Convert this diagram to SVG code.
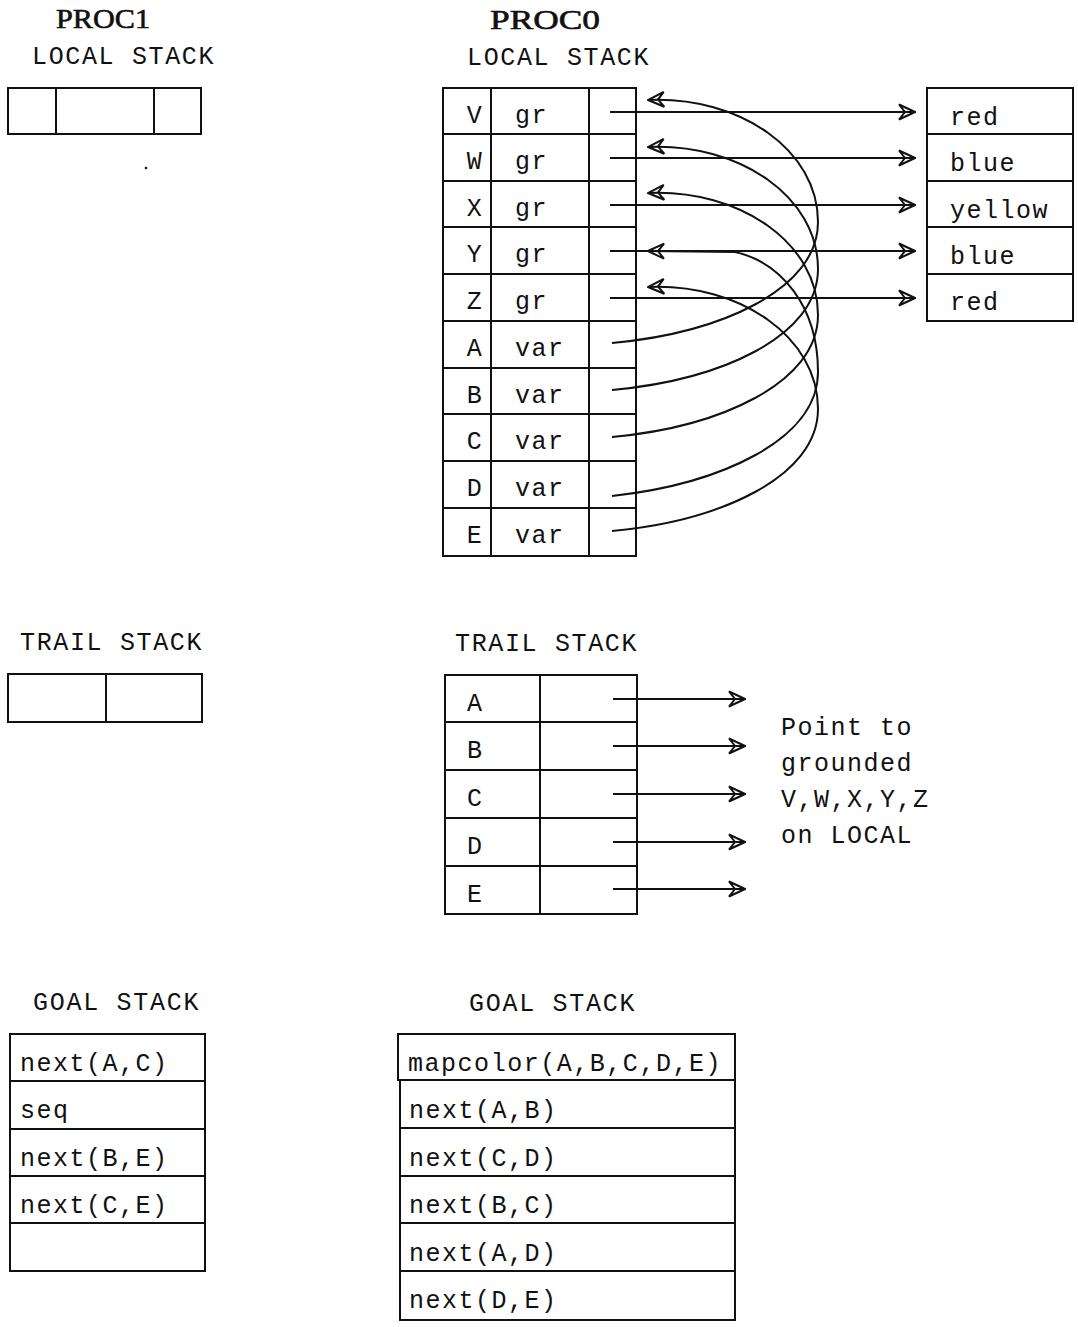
<svg xmlns="http://www.w3.org/2000/svg" width="1078" height="1327" viewBox="0 0 1078 1327">
<style>
.box{fill:none;stroke:#111;stroke-width:2}
.ln{fill:none;stroke:#111;stroke-width:2}
.t{font-family:"Liberation Mono","DejaVu Sans Mono",monospace;font-size:25px;letter-spacing:1.5px;fill:#111}
.h{font-family:"Liberation Mono","DejaVu Sans Mono",monospace;font-size:25px;letter-spacing:1.5px;fill:#111}
.p{font-family:"Liberation Serif","DejaVu Serif",serif;font-size:27px;fill:#111;stroke:#111;stroke-width:0.6}
</style>
<defs>
<marker id="ah" viewBox="0 0 18 18" refX="17" refY="9" markerWidth="18" markerHeight="18" markerUnits="userSpaceOnUse" orient="auto-start-reverse">
<path d="M1,1.5 L17,9 L1,16.5 L7,9 Z" fill="none" stroke="#111" stroke-width="2" stroke-linejoin="miter"/>
</marker>
</defs>
<rect width="1078" height="1327" fill="#fff"/>

<g id="headers">
<text class="p" x="56" y="28" textLength="94" lengthAdjust="spacingAndGlyphs">PROC1</text>
<text class="p" x="490" y="29" textLength="110" lengthAdjust="spacingAndGlyphs">PROC0</text>
<text class="h" x="32" y="64" textLength="183" lengthAdjust="spacing">LOCAL STACK</text>
<text class="h" x="467" y="65" textLength="183" lengthAdjust="spacing">LOCAL STACK</text>
<text class="h" x="20" y="650" textLength="183" lengthAdjust="spacing">TRAIL STACK</text>
<text class="h" x="455" y="651" textLength="183" lengthAdjust="spacing">TRAIL STACK</text>
<text class="h" x="33" y="1010" textLength="167" lengthAdjust="spacing">GOAL STACK</text>
<text class="h" x="469" y="1011" textLength="167" lengthAdjust="spacing">GOAL STACK</text>
</g>

<g id="proc1-local">
<rect class="box" x="8" y="88" width="193" height="46"/>
<line class="box" x1="56" y1="88" x2="56" y2="134"/>
<line class="box" x1="154" y1="88" x2="154" y2="134"/>
<circle cx="146" cy="168" r="1.3" fill="#111"/>
</g>

<g id="proc0-local">
<rect class="box" x="443" y="88" width="193" height="468"/>
<line class="box" x1="491" y1="88" x2="491" y2="556"/>
<line class="box" x1="589" y1="88" x2="589" y2="556"/>
<line class="box" x1="443" y1="134" x2="636" y2="134"/>
<line class="box" x1="443" y1="181" x2="636" y2="181"/>
<line class="box" x1="443" y1="227" x2="636" y2="227"/>
<line class="box" x1="443" y1="274" x2="636" y2="274"/>
<line class="box" x1="443" y1="321" x2="636" y2="321"/>
<line class="box" x1="443" y1="368" x2="636" y2="368"/>
<line class="box" x1="443" y1="414" x2="636" y2="414"/>
<line class="box" x1="443" y1="461" x2="636" y2="461"/>
<line class="box" x1="443" y1="508" x2="636" y2="508"/>
<g class="t" text-anchor="middle">
<text x="475" y="123">V</text>
<text x="475" y="169">W</text>
<text x="475" y="216">X</text>
<text x="475" y="262">Y</text>
<text x="475" y="309">Z</text>
<text x="475" y="356">A</text>
<text x="475" y="403">B</text>
<text x="475" y="449">C</text>
<text x="475" y="496">D</text>
<text x="475" y="543">E</text>
</g>
<g class="t">
<text x="515" y="123">gr</text>
<text x="515" y="169">gr</text>
<text x="515" y="216">gr</text>
<text x="515" y="262">gr</text>
<text x="515" y="309">gr</text>
<text x="515" y="356">var</text>
<text x="515" y="403">var</text>
<text x="515" y="449">var</text>
<text x="515" y="496">var</text>
<text x="515" y="543">var</text>
</g>
</g>

<g id="colors">
<rect class="box" x="927" y="88" width="146" height="233"/>
<line class="box" x1="927" y1="134" x2="1073" y2="134"/>
<line class="box" x1="927" y1="181" x2="1073" y2="181"/>
<line class="box" x1="927" y1="227" x2="1073" y2="227"/>
<line class="box" x1="927" y1="274" x2="1073" y2="274"/>
<g class="t">
<text x="950" y="125">red</text>
<text x="950" y="171">blue</text>
<text x="950" y="218">yellow</text>
<text x="950" y="264">blue</text>
<text x="950" y="310">red</text>
</g>
</g>

<g id="proc1-trail">
<rect class="box" x="8" y="674" width="194" height="48"/>
<line class="box" x1="106" y1="674" x2="106" y2="722"/>
</g>

<g id="proc0-trail">
<rect class="box" x="445" y="675" width="192" height="239"/>
<line class="box" x1="540" y1="675" x2="540" y2="914"/>
<line class="box" x1="445" y1="722" x2="637" y2="722"/>
<line class="box" x1="445" y1="770" x2="637" y2="770"/>
<line class="box" x1="445" y1="818" x2="637" y2="818"/>
<line class="box" x1="445" y1="866" x2="637" y2="866"/>
<g class="t">
<text x="467" y="711">A</text>
<text x="467" y="758">B</text>
<text x="467" y="806">C</text>
<text x="467" y="854">D</text>
<text x="467" y="902">E</text>
</g>
</g>

<g id="note" class="t">
<text x="781" y="735">Point to</text>
<text x="781" y="771">grounded</text>
<text x="781" y="807">V,W,X,Y,Z</text>
<text x="781" y="843">on LOCAL</text>
</g>

<g id="proc1-goal">
<rect class="box" x="10" y="1034" width="195" height="237"/>
<line class="box" x1="10" y1="1081" x2="205" y2="1081"/>
<line class="box" x1="10" y1="1129" x2="205" y2="1129"/>
<line class="box" x1="10" y1="1176" x2="205" y2="1176"/>
<line class="box" x1="10" y1="1223" x2="205" y2="1223"/>
<g class="t">
<text x="20" y="1071">next(A,C)</text>
<text x="20" y="1118">seq</text>
<text x="20" y="1166">next(B,E)</text>
<text x="20" y="1213">next(C,E)</text>
</g>
</g>

<g id="proc0-goal">
<rect class="box" x="398" y="1034" width="337" height="46"/>
<rect class="box" x="400" y="1080" width="335" height="240"/>
<line class="box" x1="400" y1="1128" x2="735" y2="1128"/>
<line class="box" x1="400" y1="1176" x2="735" y2="1176"/>
<line class="box" x1="400" y1="1223" x2="735" y2="1223"/>
<line class="box" x1="400" y1="1271" x2="735" y2="1271"/>
<g class="t">
<text x="408" y="1071" textLength="314" lengthAdjust="spacing">mapcolor(A,B,C,D,E)</text>
<text x="409" y="1118">next(A,B)</text>
<text x="409" y="1166">next(C,D)</text>
<text x="409" y="1213">next(B,C)</text>
<text x="409" y="1261">next(A,D)</text>
<text x="409" y="1308">next(D,E)</text>
</g>
</g>

<g id="connectors">
<line class="ln" x1="610" y1="112" x2="915" y2="112" marker-end="url(#ah)"/>
<line class="ln" x1="610" y1="158" x2="915" y2="158" marker-end="url(#ah)"/>
<line class="ln" x1="610" y1="205" x2="915" y2="205" marker-end="url(#ah)"/>
<line class="ln" x1="610" y1="251" x2="915" y2="251" marker-end="url(#ah)"/>
<line class="ln" x1="610" y1="298" x2="915" y2="298" marker-end="url(#ah)"/>

<path class="ln" marker-start="url(#ah)" d="M648,100 C740,96 818,150 818,222 C818,290 720,333 612,343"/>
<path class="ln" marker-start="url(#ah)" d="M648,147 C740,143 818,197 818,269 C818,337 720,380 612,390"/>
<path class="ln" marker-start="url(#ah)" d="M648,193 C740,189 818,243 818,315 C818,383 720,427 612,437"/>
<path class="ln" marker-start="url(#ah)" d="M648,251 L735,252 C780,262 818,305 818,372 C818,440 720,484 612,496"/>
<path class="ln" marker-start="url(#ah)" d="M648,287 C740,283 818,337 818,409 C818,477 720,521 612,531"/>

<line class="ln" x1="613" y1="699" x2="745" y2="699" marker-end="url(#ah)"/>
<line class="ln" x1="613" y1="746" x2="745" y2="746" marker-end="url(#ah)"/>
<line class="ln" x1="613" y1="794" x2="745" y2="794" marker-end="url(#ah)"/>
<line class="ln" x1="613" y1="842" x2="745" y2="842" marker-end="url(#ah)"/>
<line class="ln" x1="613" y1="889" x2="745" y2="889" marker-end="url(#ah)"/>
</g>
</svg>
